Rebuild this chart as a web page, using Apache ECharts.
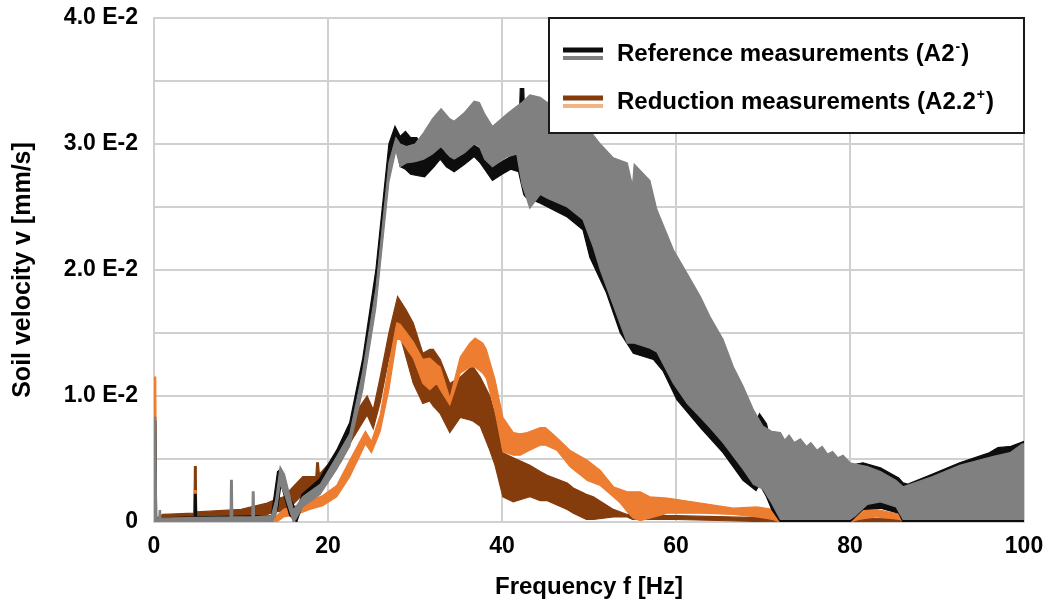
<!DOCTYPE html>
<html>
<head>
<meta charset="utf-8">
<script src="https://cdn.jsdelivr.net/npm/echarts@6/dist/echarts.min.js"></script>
<style>
html, body { margin: 0; padding: 0; background: #fff; }
#chart { width: 1047px; height: 605px; }
</style>
</head>
<body>
<div id="chart"></div>
<script>
// values in units of 1 E-2 mm/s, read as envelopes (lower / upper) of each band
var xTicks = [0, 20, 40, 60, 80, 100];

// Reference measurements (A2-), black trace
var blackF  = [0, 0.2, 0.3, 4.6, 4.65, 4.85, 4.9, 13.5, 14.2, 14.6, 15.6, 16.4, 17, 19, 21, 22.5, 24, 25.5, 27, 27.7, 28.3, 28.9, 29.5, 30.2, 31.1, 32.2, 32.9, 33.6, 34.5, 35.7, 36.8, 37.5, 38.9, 40, 41, 41.9, 42.1, 42.5, 42.7, 44.4, 47.5, 49.3, 50.1, 52, 53.6, 55.1, 57.4, 58.5, 60.1, 62.8, 65.4, 67.7, 69.2, 69.6, 70.4, 71, 72, 80, 81.5, 83.5, 85.6, 86.1, 86.6, 89.5, 92.6, 96, 97, 98.5, 100];
var blackLo = [0, 0, 0, 0, 0, 0, 0, 0, 0.1, 0.3, 0.05, 0, 0.12, 0.26, 0.47, 0.68, 1.15, 1.85, 2.85, 3.02, 2.82, 2.8, 2.76, 2.75, 2.74, 2.82, 2.88, 2.82, 2.78, 2.84, 2.9, 2.85, 2.71, 2.76, 2.8, 2.78, 2.72, 2.6, 2.58, 2.53, 2.42, 2.32, 2.1, 1.82, 1.5, 1.34, 1.29, 1.2, 0.97, 0.75, 0.55, 0.33, 0.25, 0.3, 0.2, 0.1, 0, 0, 0.1, 0.11, 0.07, 0, 0, 0, 0, 0, 0, 0, 0];
var blackHi = [0.8, 0.8, 0.03, 0.04, 0.22, 0.22, 0.04, 0.05, 0.4, 0.42, 0.2, 0.08, 0.22, 0.34, 0.57, 0.79, 1.3, 2.0, 3.0, 3.14, 3.06, 3.1, 3.05, 3.05, 2.95, 2.95, 2.98, 2.92, 2.88, 2.94, 2.99, 2.96, 2.82, 2.86, 2.9, 3.0, 3.44, 3.44, 3.0, 3.0, 3.0, 2.9, 2.9, 2.7, 2.6, 2.5, 2.4, 2.1, 1.9, 1.6, 1.3, 0.95, 0.8, 0.86, 0.78, 0.6, 0.5, 0.45, 0.47, 0.43, 0.35, 0.31, 0.3, 0.38, 0.47, 0.55, 0.59, 0.6, 0.64];

// Reference measurements (A2-), grey trace
var greyF  = [0, 0.2, 0.3, 0.55, 0.6, 0.75, 0.8, 8.75, 8.8, 9.0, 9.05, 11.25, 11.3, 11.5, 11.55, 13.5, 14.0, 14.5, 15.0, 16.0, 16.3, 17.1, 19.1, 21, 22.5, 24, 25.5, 27, 27.8, 28.3, 29, 30, 31, 32, 33, 34, 34.5, 35.7, 36.8, 37.4, 38, 38.9, 40.6, 41.7, 42.3, 43.2, 44.4, 45.2, 47.5, 49.3, 50.5, 51.3, 52.8, 54.4, 55, 55.2, 57, 57.8, 59.7, 61.3, 62.8, 63.9, 65.4, 66.6, 67.7, 68.9, 70, 71, 72, 72.5, 73, 73.6, 74.3, 75, 75.5, 76.2, 76.8, 77.4, 78, 78.6, 79.2, 80, 80.6, 82, 83.5, 85.3, 86.1, 89.5, 92.6, 96.4, 98.4, 99.8, 100];
var greyLo = [0, 0, 0, 0, 0, 0, 0, 0, 0, 0, 0, 0, 0, 0, 0, 0, 0.05, 0.3, 0.22, 0, 0.02, 0.12, 0.22, 0.42, 0.6, 1.05, 1.7, 2.7, 2.95, 2.82, 2.85, 2.86, 2.88, 2.92, 2.98, 2.9, 2.88, 2.93, 3.0, 2.98, 2.88, 2.82, 2.9, 2.92, 2.68, 2.49, 2.6, 2.57, 2.5, 2.4, 2.18, 2.0, 1.72, 1.42, 1.42, 1.42, 1.38, 1.35, 1.1, 0.94, 0.83, 0.75, 0.63, 0.52, 0.42, 0.3, 0.26, 0.15, 0.02, 0.02, 0.02, 0.02, 0.02, 0.02, 0.02, 0.02, 0.02, 0.02, 0.02, 0.02, 0.02, 0.02, 0.05, 0.14, 0.16, 0.12, 0.02, 0.02, 0.02, 0.02, 0.02, 0.02, 0.02];
var greyHi = [0.83, 0.83, 0.03, 0.03, 0.09, 0.09, 0.03, 0.04, 0.33, 0.33, 0.04, 0.04, 0.24, 0.24, 0.04, 0.05, 0.18, 0.44, 0.38, 0.1, 0.12, 0.2, 0.3, 0.52, 0.7, 1.2, 1.85, 2.85, 3.05, 3.0, 2.98, 3.0, 3.09, 3.2, 3.28, 3.2, 3.18, 3.25, 3.34, 3.33, 3.24, 3.14, 3.24, 3.3, 3.33, 3.39, 3.37, 3.33, 3.3, 3.2, 3.07, 3.0, 2.89, 2.85, 2.67, 2.84, 2.71, 2.48, 2.16, 1.97, 1.79, 1.63, 1.45, 1.23, 1.08, 0.89, 0.76, 0.72, 0.71, 0.65, 0.69, 0.63, 0.66, 0.6, 0.63, 0.57, 0.6, 0.54, 0.56, 0.51, 0.53, 0.47, 0.46, 0.44, 0.4, 0.33, 0.28, 0.36, 0.45, 0.52, 0.55, 0.62, 0.62];

// Reduction measurements (A2.2+), dark brown trace
var brownF  = [0.3, 1, 4.6, 4.65, 4.85, 4.9, 10, 13, 14, 14.9, 16, 17.1, 18.6, 18.7, 18.9, 19.0, 20.2, 21.5, 22.5, 23, 24.5, 25.2, 26, 27, 28, 29, 29.8, 30.9, 31.7, 32.1, 32.9, 34, 35.2, 36.3, 36.7, 37.5, 38.6, 39.2, 40.1, 41.3, 43.2, 44.4, 45.2, 47.5, 48.2, 49.7, 50.5, 52.8, 54.4, 55, 60, 66, 72, 100];
var brownLo = [0, 0.02, 0.03, 0.03, 0.03, 0.03, 0.04, 0.06, 0.08, 0.09, 0.14, 0.22, 0.25, 0.25, 0.25, 0.27, 0.36, 0.48, 0.62, 0.68, 0.85, 0.74, 0.95, 1.3, 1.55, 1.3, 1.1, 0.94, 0.96, 0.92, 0.86, 0.71, 0.83, 0.81, 0.8, 0.76, 0.57, 0.45, 0.2, 0.16, 0.2, 0.17, 0.17, 0.1, 0.07, 0.02, 0.02, 0.04, 0.04, 0.02, 0.02, 0.01, 0, 0];
var brownHi = [0.03, 0.06, 0.07, 0.44, 0.44, 0.08, 0.1, 0.15, 0.18, 0.2, 0.28, 0.36, 0.36, 0.47, 0.47, 0.38, 0.47, 0.6, 0.78, 0.85, 1.0, 0.89, 1.15, 1.5, 1.79, 1.68, 1.58, 1.34, 1.37, 1.37, 1.29, 1.1, 1.15, 1.22, 1.23, 1.15, 1.0, 0.85, 0.55, 0.51, 0.45, 0.4, 0.37, 0.31, 0.27, 0.22, 0.2, 0.1, 0.06, 0.05, 0.05, 0.04, 0.03, 0.02];

// Reduction measurements (A2.2+), orange trace
var orangeF  = [0, 0.2, 0.3, 4.6, 4.65, 4.85, 4.9, 10, 14.1, 14.9, 16.4, 17.9, 19.4, 21, 22.5, 24.3, 25, 26, 27, 27.9, 28.3, 29.8, 30.9, 31.7, 32.5, 32.9, 34, 35.2, 36.3, 36.9, 37.8, 38.2, 39.2, 40.1, 41.3, 42.1, 42.9, 44.4, 45, 46.3, 47.8, 49.8, 51.3, 52.8, 53.6, 54.4, 55.1, 55.9, 57, 59, 62.8, 66.6, 69.3, 71.1, 72, 80, 81, 83, 85.7, 86.5, 100];
var orangeLo = [0, 0, 0, 0, 0, 0, 0, 0, 0, 0.04, 0.06, 0.1, 0.13, 0.2, 0.36, 0.62, 0.55, 0.72, 1.05, 1.45, 1.45, 1.3, 1.1, 1.05, 1.1, 1.05, 0.93, 1.18, 1.23, 1.23, 1.18, 1.14, 0.88, 0.56, 0.53, 0.53, 0.56, 0.61, 0.61, 0.57, 0.44, 0.33, 0.29, 0.2, 0.15, 0.08, 0.03, 0.01, 0.03, 0.07, 0.07, 0.06, 0.04, 0.02, 0, 0, 0.02, 0.04, 0.02, 0, 0];
var orangeHi = [1.15, 1.15, 0.02, 0.03, 0.25, 0.25, 0.03, 0.03, 0.05, 0.1, 0.13, 0.17, 0.21, 0.29, 0.49, 0.72, 0.64, 0.85, 1.25, 1.58, 1.57, 1.43, 1.29, 1.3, 1.25, 1.23, 0.98, 1.31, 1.42, 1.46, 1.42, 1.37, 1.13, 0.83, 0.71, 0.7, 0.71, 0.75, 0.75, 0.67, 0.57, 0.49, 0.41, 0.28, 0.26, 0.24, 0.24, 0.24, 0.2, 0.19, 0.15, 0.11, 0.12, 0.1, 0.05, 0.05, 0.11, 0.1, 0.06, 0.03, 0.03];

var legendNames = ['Reference measurements (A2', 'Reduction measurements (A2.2'];
var legendSups = ['-', '+'];

var chart = echarts.init(document.getElementById('chart'));
var FONT = '"Liberation Sans", Arial, sans-serif';

function band(name, f, lo, hi, color, z) {
	return {
		type: 'custom',
		name: name,
		z: z,
		clip: true,
		silent: true,
		data: [[0, 0]],
		renderItem: function(params, api) {
			var pts = [];
			for(var i = 0; i < f.length; i++) pts.push(api.coord([f[i], hi[i]]));
			for(var j = f.length - 1; j >= 0; j--) pts.push(api.coord([f[j], lo[j]]));
			return {
				type: 'polygon',
				shape: { points: pts },
				style: { fill: color, stroke: color, lineWidth: 1.2 }
			};
		}
	};
}

function legendEntry(y, c1, c2, idx) {
	return [
		{ type: 'line', shape: { x1: 563, y1: y - 4, x2: 603, y2: y - 4 }, style: { stroke: c1, lineWidth: 5 } },
		{ type: 'line', shape: { x1: 563, y1: y + 4, x2: 603, y2: y + 4 }, style: { stroke: c2, lineWidth: 4 } },
		{
			type: 'text', x: 617, y: y,
			style: {
				text: '{a|' + legendNames[idx] + '}{s|' + legendSups[idx] + '}{a|)}',
				verticalAlign: 'middle',
				rich: {
					a: { fontSize: 24, fontWeight: 'bold', fontFamily: FONT, fill: '#000', lineHeight: 28 },
					s: { fontSize: 14, fontWeight: 'bold', fontFamily: FONT, fill: '#000', lineHeight: 28, verticalAlign: 'top', padding: [0, 1, 8, 1] }
				}
			}
		}
	];
}

var option = {
	animation: false,
	backgroundColor: '#fff',
	grid: { left: 154, right: 23, top: 18, bottom: 83, outerBoundsMode: 'none' },
	xAxis: {
		type: 'value', min: 0, max: 100, interval: 20,
		name: 'Frequency f [Hz]', nameLocation: 'middle', nameGap: 53,
		nameTextStyle: { fontSize: 24, fontWeight: 'bold', fontFamily: FONT, color: '#000' },
		axisLine: { show: true, lineStyle: { color: '#D0D0D0', width: 2 } },
		axisTick: { show: false },
		axisLabel: { fontSize: 23, fontWeight: 'bold', fontFamily: FONT, color: '#000', margin: 13,
			formatter: function(v) { return xTicks.indexOf(v) >= 0 ? String(v) : ''; } },
		splitLine: { show: true, lineStyle: { color: '#D0D0D0', width: 2 } }
	},
	yAxis: {
		type: 'value', min: 0, max: 4, interval: 0.5,
		name: 'Soil velocity v [mm/s]', nameLocation: 'middle', nameGap: 118, nameRotate: 90,
		nameTextStyle: { fontSize: 25, fontWeight: 'bold', fontFamily: FONT, color: '#000' },
		axisLine: { show: true, lineStyle: { color: '#D0D0D0', width: 2 } },
		axisTick: { show: false },
		axisLabel: { fontSize: 23, fontWeight: 'bold', fontFamily: FONT, color: '#000', margin: 16,
			formatter: function(v) {
				if(v === 0) return '0';
				if(Math.abs(v - Math.round(v)) > 1e-6) return '';
				return v.toFixed(1) + ' E-2';
			} },
		splitLine: { show: true, lineStyle: { color: '#D0D0D0', width: 2 } }
	},
	series: [
		band('Reduction brown', brownF, brownLo, brownHi, '#843C0C', 2),
		band('Reduction orange', orangeF, orangeLo, orangeHi, '#ED7D31', 3),
		band('Reference black', blackF, blackLo, blackHi, '#0D0D0D', 4),
		band('Reference grey', greyF, greyLo, greyHi, '#808080', 5)
	],
	graphic: [
		{ type: 'rect', z: 100, shape: { x: 549, y: 18, width: 475, height: 115 }, style: { fill: '#fff', stroke: '#1A1A1A', lineWidth: 2 } }
	].concat(legendEntry(54, '#0D0D0D', '#808080', 0), legendEntry(102, '#843C0C', '#F4B183', 1)).map(function(g) { g.z = 100; return g; })
};

chart.setOption(option);
</script>
</body>
</html>
